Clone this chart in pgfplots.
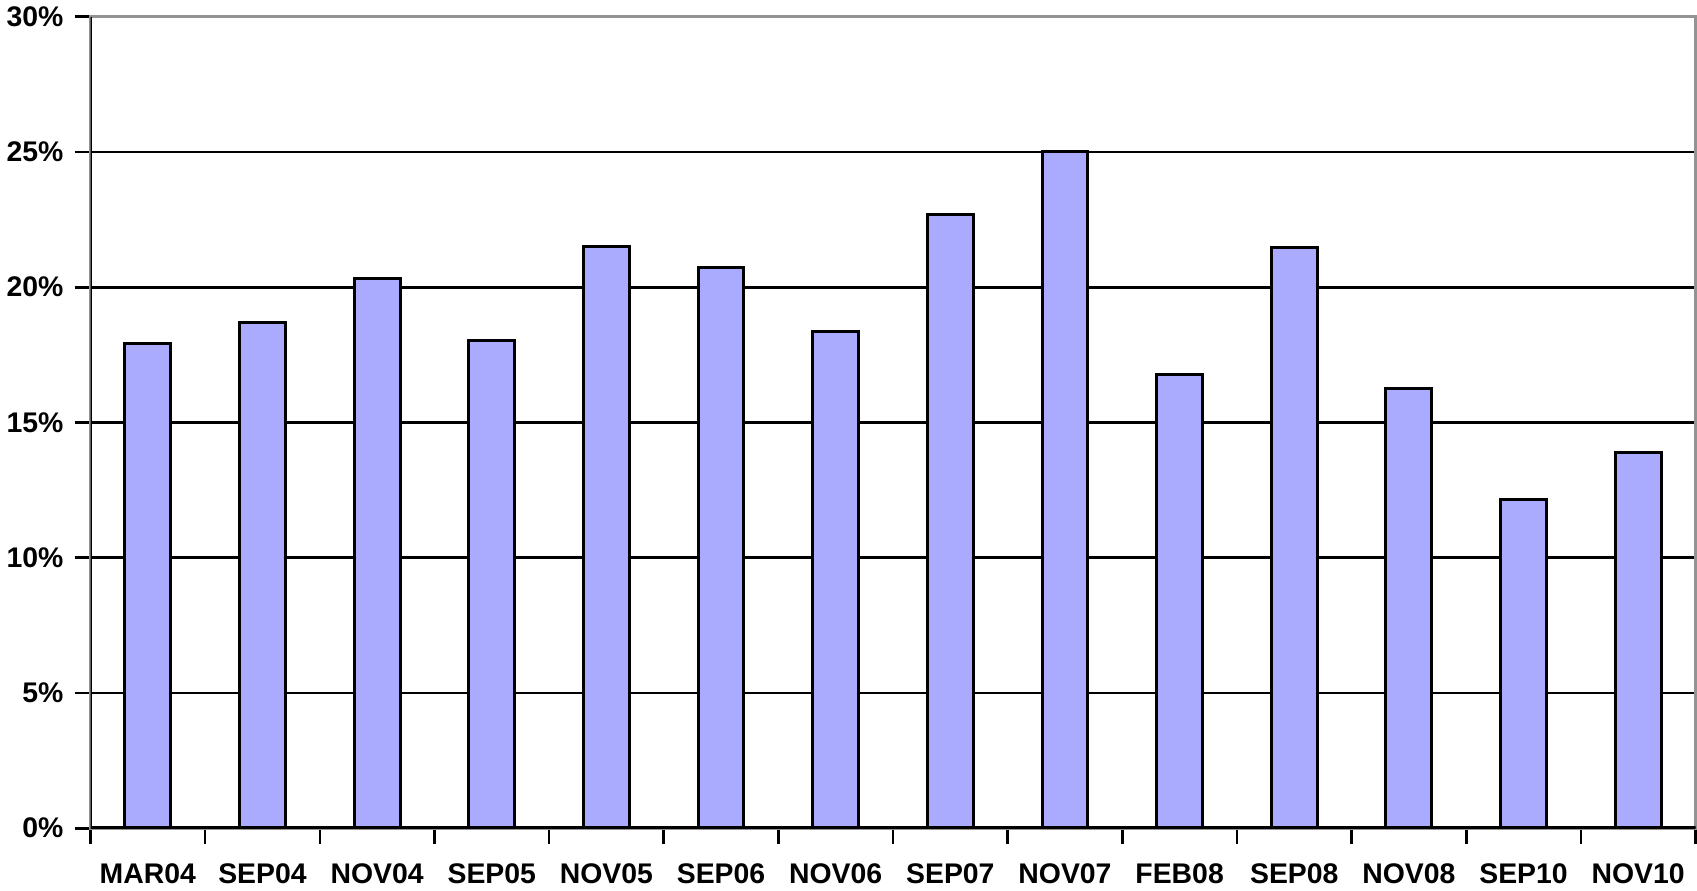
\documentclass[border=0pt]{standalone}
\usepackage{fontspec}
\setmainfont{Liberation Sans}
\usepackage{pgfplots}
\pgfplotsset{compat=1.18}
\definecolor{barblue}{HTML}{AAAAFF}
\begin{document}
\begin{tikzpicture}
\begin{axis}[
    scale only axis,
    width=803pt, height=406pt,
    xmin=-0.5, xmax=13.5,
    ymin=0, ymax=30,
    xtick={0,...,13},
    xticklabels={MAR04,SEP04,NOV04,SEP05,NOV05,SEP06,NOV06,SEP07,NOV07,FEB08,SEP08,NOV08,SEP10,NOV10},
    major x tick style={draw=none},
    minor xtick={-0.5,0.5,...,13.5},
    minor tick length=8pt,
    x tick style={black, line width=1.3pt},
    ytick={0,5,...,30},
    yticklabel={\pgfmathprintnumber{\tick}\%},
    y tick style={black, line width=1.3pt},
    major tick length=8pt,
    tick align=outside,
    xtick pos=bottom, ytick pos=left,
    ymajorgrids,
    grid style={black, line width=1.3pt},
    axis line style={draw=gray!85, line width=1.5pt},
    ticklabel style={font=\fontsize{14.2}{16}\selectfont\bfseries},
    /pgf/number format/assume math mode=true,
    xticklabel style={yshift=-6pt},
    yticklabel style={xshift=-2pt},
]
\addplot[ybar, bar width=0.4, fill=barblue, draw=black, line width=1.5pt]
coordinates {(0,17.91) (1,18.71) (2,20.31) (3,18.03) (4,21.50) (5,20.74) (6,18.35)
             (7,22.70) (8,25.00) (9,16.79) (10,21.46) (11,16.27) (12,12.17) (13,13.88)};
\draw[black, line width=1.8pt] (rel axis cs:0,1) -- (rel axis cs:0,0) -- (rel axis cs:1,0);
\end{axis}
\end{tikzpicture}
\end{document}
